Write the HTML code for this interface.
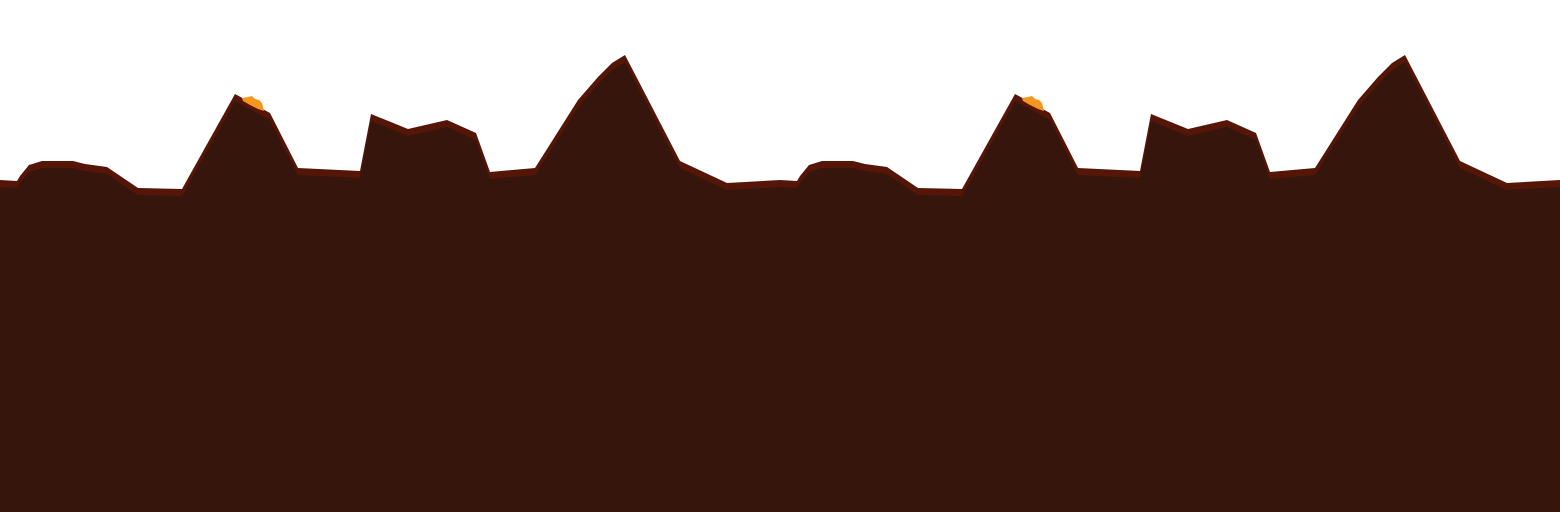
<!DOCTYPE html>
<html><head><meta charset="utf-8"><style>
html,body{margin:0;padding:0;background:#fff;}
svg{display:block;}
</style></head><body>
<svg id="chart" width="1560" height="512" viewBox="0 0 1560 512" xmlns="http://www.w3.org/2000/svg"></svg>
<script>
const ridgeX = [0,17,20,29,42,73,85,107,138,182,235,270,298,360,371,408,447,476,490,535,578,598,612,625,680,727,780];
const ridgeY = [180,181,176,165,161,161,164,167,188,189,94,113,168,171,114,129,120,133,172,168,100,77,63,55,161,183,180];
const periods = [0,1,2];
const period = 780;
const svg = document.getElementById('chart');
const NS = 'http://www.w3.org/2000/svg';
function pts(off, dy){
  let p = [];
  for (let i=0;i<ridgeX.length;i++) p.push((ridgeX[i]+off)+','+(ridgeY[i]+dy));
  p.push((ridgeX[ridgeX.length-1]+off)+',512');
  p.push(off+',512');
  return p.join(' ');
}
periods.forEach(k=>{
  const off = k*period;
  const edge = document.createElementNS(NS,'polygon');
  edge.setAttribute('points', pts(off,0));
  edge.setAttribute('fill','#561607');
  
  
  svg.appendChild(edge);
  const fill = document.createElementNS(NS,'polygon');
  fill.setAttribute('points', pts(off,7));
  fill.setAttribute('fill','#36150d');
  
  
  svg.appendChild(fill);
  const flame = document.createElementNS(NS,'polygon');
  flame.setAttribute('points', [[242+off,98],[248+off,97],[252+off,96],[255+off,99],[259+off,100],[262+off,103],[264+off,111],[258+off,109],[250+off,105],[243+off,101]].map(a=>a.join(',')).join(' '));
  flame.setAttribute('fill','#f7961e');
  
  
  svg.appendChild(flame);
});
</script>
</body></html>
